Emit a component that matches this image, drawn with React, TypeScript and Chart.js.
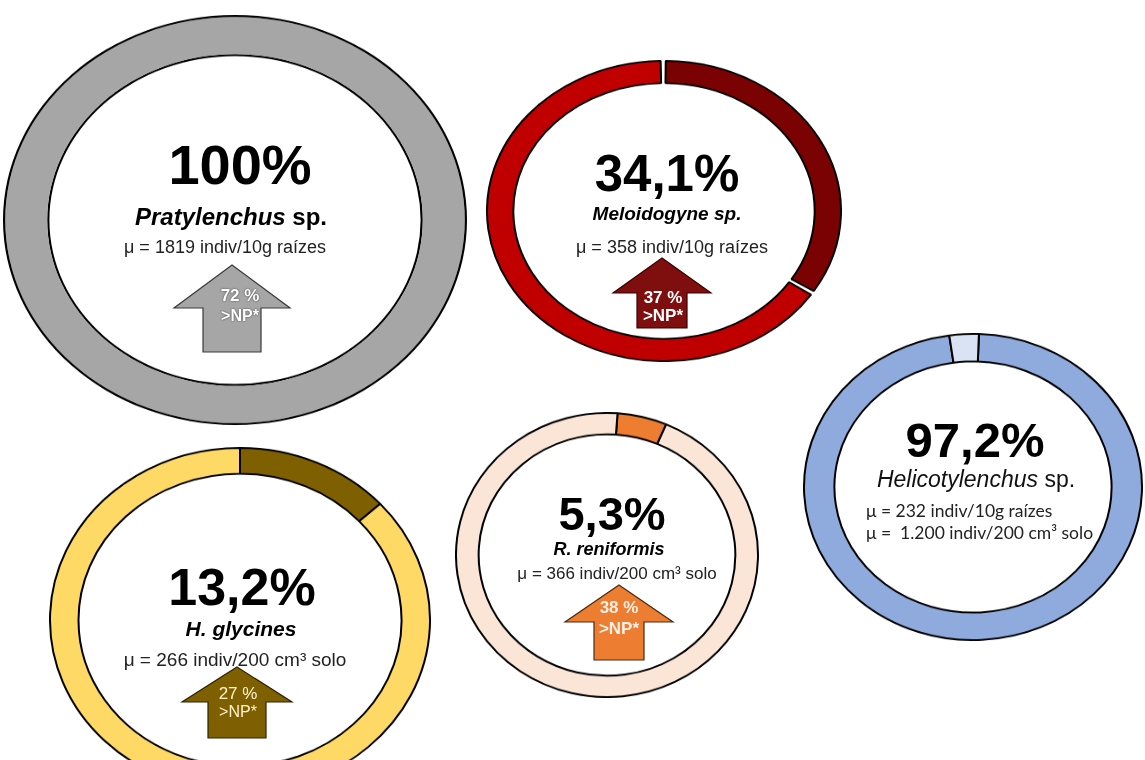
import React, { useEffect, useRef } from "react";
import { Chart, registerables } from "chart.js";

Chart.register(...registerables);

// ---------- DATA ----------
const speciesNames = ["Pratylenchus", "Meloidogyne", "Helicotylenchus", "R. reniformis", "H. glycines"];
const frequencyPct = [100, 34.1, 97.2, 5.3, 13.2];
const frequencyLabels = ["100%", "34,1%", "97,2%", "5,3%", "13,2%"];
const populationTexts = [
  ["μ = 1819 indiv/10g raízes"],
  ["μ = 358 indiv/10g raízes"],
  ["μ = 232 indiv/10g raízes", "μ =  1.200 indiv/200 cm³ solo"],
  ["μ = 366 indiv/200 cm³ solo"],
  ["μ = 266 indiv/200 cm³ solo"],
];
const increaseLabels = ["72 %", "37 %", "", "38 %", "27 %"];
const npLabel = ">NP*";

// ---------- LAYOUT / STYLE ----------
const rings = [
  { cx: 235, cy: 220, rx: 232, ry: 205, cutout: "80%", rotation: 0, spacing: 0, colors: ["#a6a6a6", "#a6a6a6"] },
  { cx: 664, cy: 211, rx: 178, ry: 151, cutout: "85%", rotation: 0, spacing: 3, colors: ["#7b0202", "#c00000"] },
  { cx: 973, cy: 487, rx: 170, ry: 154, cutout: "82%", rotation: 2, spacing: 0, colors: ["#8faadc", "#dae3f3"] },
  { cx: 607, cy: 555, rx: 152, ry: 143, cutout: "85%", rotation: 4, spacing: 0, colors: ["#ed7d31", "#fbe5d6"] },
  { cx: 240, cy: 620, rx: 191, ry: 173, cutout: "85%", rotation: 0, spacing: 0, colors: ["#7f6000", "#ffd966"] },
];

const arrows = [
  { cx: 232, tip: 265, base: 308, hw: 58, sw: 29, bottom: 352, fill: "#a6a6a6", stroke: "#3a3a3a" },
  { cx: 662, tip: 258, base: 293, hw: 49, sw: 25, bottom: 328, fill: "#7f0f0f", stroke: "#3a0000" },
  null,
  { cx: 619, tip: 585, base: 622, hw: 54, sw: 25, bottom: 660, fill: "#ed7d31", stroke: "#4a2a10" },
  { cx: 237, tip: 667, base: 702, hw: 55, sw: 29, bottom: 738, fill: "#7f6000", stroke: "#2e2300" },
];

const FONT = "'Liberation Sans', Arial, sans-serif";
const CALIBRI_LIKE = "Lato, 'Open Sans', sans-serif";
const OUTLINE = 2.2;

function Ring({ idx }: { idx: number }) {
  const ref = useRef<HTMLCanvasElement | null>(null);
  const r = rings[idx];
  const size = Math.round(2 * r.rx);
  useEffect(() => {
    if (!ref.current) return;
    const f = frequencyPct[idx];
    const rest = +(100 - f).toFixed(1);
    let datasets: any[];
    let labels: string[];
    if (rest > 0) {
      labels = [speciesNames[idx], "—"];
      datasets = [
        {
          data: [f, rest],
          backgroundColor: r.colors,
          borderColor: "#000000",
          borderWidth: 2,
          spacing: r.spacing,
        },
      ];
    } else {
      // one full slice: draw its outline as thin black rings so there is no seam
      const thick = (r.rx * (1 - parseFloat(r.cutout) / 100)) - 2 * OUTLINE;
      labels = [speciesNames[idx]];
      datasets = [
        { data: [f], backgroundColor: "#000000", borderWidth: 0, weight: OUTLINE },
        { data: [f], backgroundColor: r.colors[0], borderWidth: 0, weight: thick },
        { data: [f], backgroundColor: "#000000", borderWidth: 0, weight: OUTLINE },
      ];
    }
    const chart = new Chart(ref.current, {
      type: "doughnut",
      data: { labels, datasets },
      options: {
        responsive: false,
        maintainAspectRatio: false,
        animation: false,
        events: [],
        cutout: r.cutout,
        rotation: r.rotation,
        layout: { padding: 0 },
        plugins: { legend: { display: false }, tooltip: { enabled: false } },
      } as any,
    });
    return () => chart.destroy();
  }, [idx]);
  return (
    <canvas
      ref={ref}
      width={size}
      height={size}
      style={{
        position: "absolute",
        left: r.cx - r.rx,
        top: r.cy - r.ry,
        width: 2 * r.rx,
        height: 2 * r.ry,
      }}
    />
  );
}

function Label({ x, y, style, children, left }: any) {
  return (
    <div
      style={{
        position: "absolute",
        left: x,
        top: y,
        transform: left ? "translate(0,-50%)" : "translate(-50%,-50%)",
        whiteSpace: "pre",
        lineHeight: 1,
        fontFamily: FONT,
        ...style,
      }}
    >
      {children}
    </div>
  );
}

function ArrowShape({ a }: any) {
  const pts = [
    [a.cx, a.tip],
    [a.cx + a.hw, a.base],
    [a.cx + a.sw, a.base],
    [a.cx + a.sw, a.bottom],
    [a.cx - a.sw, a.bottom],
    [a.cx - a.sw, a.base],
    [a.cx - a.hw, a.base],
  ]
    .map((p) => p.join(","))
    .join(" ");
  return <polygon points={pts} fill={a.fill} stroke={a.stroke} strokeWidth={1.2} strokeLinejoin="miter" />;
}

export default function App() {
  const big = { fontWeight: 700, color: "#000" };
  const pop = { fontSize: 18, color: "#222" };
  const grayTxt = { fontWeight: 700, color: "#fff", textShadow: "0 0 2px #555, 0 0 1px #555" };
  return (
    <div
      style={{
        position: "fixed",
        left: 0,
        top: 0,
        width: 1145,
        height: 760,
        overflow: "hidden",
        background: "#fff",
      }}
    >
      {rings.map((_, i) => (
        <Ring key={i} idx={i} />
      ))}
      <svg width={1145} height={760} style={{ position: "absolute", left: 0, top: 0 }}>
        {arrows.map((a, i) => (a ? <ArrowShape key={i} a={a} /> : null))}
      </svg>

      {/* Pratylenchus */}
      <Label x={240} y={165} style={{ ...big, fontSize: 56 }}>{frequencyLabels[0]}</Label>
      <Label x={231} y={217} style={{ fontSize: 24, fontWeight: 700 }}>
        <i>{speciesNames[0]}</i> sp.
      </Label>
      <Label x={225} y={247} style={pop}>{populationTexts[0][0]}</Label>
      <Label x={240} y={295} style={{ ...grayTxt, fontSize: 17 }}>{increaseLabels[0]}</Label>
      <Label x={240} y={316} style={{ ...grayTxt, fontSize: 16 }}>{npLabel}</Label>

      {/* Meloidogyne */}
      <Label x={667} y={173} style={{ ...big, fontSize: 51 }}>{frequencyLabels[1]}</Label>
      <Label x={667} y={213} style={{ fontSize: 19, fontWeight: 700, fontStyle: "italic" }}>{speciesNames[1]} sp.</Label>
      <Label x={672} y={247} style={pop}>{populationTexts[1][0]}</Label>
      <Label x={663} y={297} style={{ fontSize: 17, fontWeight: 700, color: "#fff" }}>{increaseLabels[1]}</Label>
      <Label x={663} y={315} style={{ fontSize: 17, fontWeight: 700, color: "#fff" }}>{npLabel}</Label>

      {/* Helicotylenchus */}
      <Label x={975} y={440} style={{ ...big, fontSize: 49 }}>{frequencyLabels[2]}</Label>
      <Label x={976} y={479} style={{ fontSize: 23, color: "#111" }}>
        <i>{speciesNames[2]}</i> sp.
      </Label>
      <Label x={866} y={511} left style={{ fontSize: 17.5, color: "#222", fontFamily: CALIBRI_LIKE }}>{populationTexts[2][0]}</Label>
      <Label x={866} y={533} left style={{ fontSize: 17.5, color: "#222", fontFamily: CALIBRI_LIKE }}>{populationTexts[2][1]}</Label>

      {/* R. reniformis */}
      <Label x={612} y={513} style={{ ...big, fontSize: 47 }}>{frequencyLabels[3]}</Label>
      <Label x={609} y={549} style={{ fontSize: 18, fontWeight: 700, fontStyle: "italic" }}>{speciesNames[3]}</Label>
      <Label x={617} y={573} style={{ ...pop, fontSize: 17 }}>{populationTexts[3][0]}</Label>
      <Label x={619} y={607} style={{ fontSize: 17, fontWeight: 700, color: "#fdf0e6" }}>{increaseLabels[3]}</Label>
      <Label x={619} y={628} style={{ fontSize: 17, fontWeight: 700, color: "#fdf0e6" }}>{npLabel}</Label>

      {/* H. glycines */}
      <Label x={242} y={587} style={{ ...big, fontSize: 52 }}>{frequencyLabels[4]}</Label>
      <Label x={241} y={628} style={{ fontSize: 21, fontWeight: 700, fontStyle: "italic" }}>{speciesNames[4]}</Label>
      <Label x={235} y={659} style={{ ...pop, fontSize: 19 }}>{populationTexts[4][0]}</Label>
      <Label x={238} y={693} style={{ fontSize: 17, color: "#fff2cc" }}>{increaseLabels[4]}</Label>
      <Label x={238} y={712} style={{ fontSize: 16, color: "#fff2cc" }}>{npLabel}</Label>
    </div>
  );
}
